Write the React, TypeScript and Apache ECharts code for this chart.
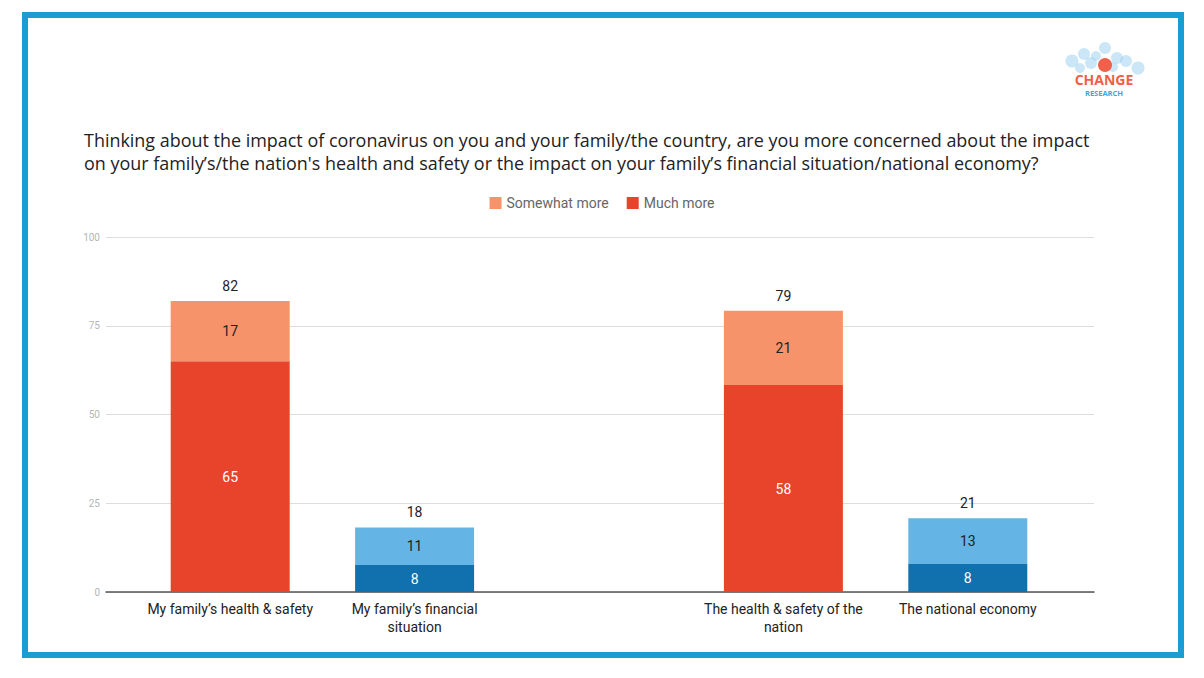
import React, { useEffect, useRef } from "react";
import * as echarts from "echarts";

const categories = [
  "My family’s health & safety",
  "My family’s financial\nsituation",
  "",
  "The health & safety of the\nnation",
  "The national economy",
];
const muchMore = [65, 7.6, null, 58.3, 7.9];
const somewhatMore = [17, 10.6, null, 20.9, 12.9];
const barKinds = ["health", "finance", "none", "health", "finance"];
const yTicks = [0, 25, 50, 75, 100];
const titleLines = [
  "Thinking about the impact of coronavirus on you and your family/the country, are you more concerned about the impact",
  "on your family’s/the nation's health and safety or the impact on your family’s financial situation/national economy?",
];

const RED = "#E8432B";
const SALMON = "#F6936B";
const DARKBLUE = "#1170AE";
const LIGHTBLUE = "#64B4E5";

export default function App() {
  const ref = useRef<HTMLDivElement>(null);
  useEffect(() => {
    if (!ref.current) return;
    const chart = echarts.init(ref.current, undefined, { renderer: "svg" });
    const totals = muchMore.map((m, i) =>
      m == null ? null : (m as number) + (somewhatMore[i] as number)
    );
    const muchData = muchMore.map((v, i) =>
      v == null
        ? "-"
        : {
            value: v,
            itemStyle: { color: barKinds[i] === "health" ? RED : DARKBLUE },
          }
    );
    const someData = somewhatMore.map((v, i) =>
      v == null
        ? "-"
        : {
            value: v,
            itemStyle: { color: barKinds[i] === "health" ? SALMON : LIGHTBLUE },
          }
    );
    const totalData = totals.map((t) => (t == null ? "-" : 0));
    const font = "Roboto, 'Open Sans', sans-serif";
    const bubbles = [
      [1105, 48, 6],
      [1072, 61, 6.5],
      [1084, 54, 6],
      [1091, 63, 6],
      [1117, 58, 6],
      [1126, 61, 6],
      [1138, 68, 6.5],
      [1080, 68, 5],
      [1096, 56, 5],
      [1113, 67, 5],
    ];
    chart.setOption({
      animation: false,
      backgroundColor: "#ffffff",
      graphic: [
        {
          type: "rect",
          shape: { x: 25, y: 15, width: 1156, height: 640 },
          style: { fill: "none", stroke: "#1A9DD2", lineWidth: 6 },
          z: 0,
        },
        ...bubbles.map(([x, y, r]) => ({
          type: "circle",
          shape: { cx: x, cy: y, r },
          style: { fill: "rgba(160,210,240,0.55)" },
        })),
        {
          type: "circle",
          shape: { cx: 1105, cy: 65, r: 7 },
          style: { fill: "#F0604A" },
        },
        {
          type: "text",
          x: 1104,
          y: 79,
          style: {
            text: "CHANGE",
            fill: "#EF5F48",
            font: "bold 14px 'Open Sans', sans-serif",
            align: "center",
            verticalAlign: "middle",
          },
        },
        {
          type: "text",
          x: 1104,
          y: 93,
          style: {
            text: "RESEARCH",
            fill: "#3DA6DE",
            font: "bold 7.5px 'Open Sans', sans-serif",
            align: "center",
            verticalAlign: "middle",
          },
        },
        ...titleLines.map((t, i) => ({
          type: "text",
          x: 84,
          y: 140 + i * 23,
          style: {
            text: t,
            fill: "#222222",
            font: "17.95px 'Open Sans', sans-serif",
            verticalAlign: "middle",
          },
        })),
      ],
      legend: {
        data: ["Somewhat more", "Much more"],
        top: 191,
        left: "center",
        itemWidth: 12,
        itemHeight: 12,
        itemGap: 18,
        icon: "rect",
        textStyle: { color: "#666666", fontSize: 14, fontFamily: font },
      },
      grid: [
        { left: 106, right: 110, top: 237, bottom: 86 },
        { left: 138, right: 144, top: 237, bottom: 86 },
      ],
      xAxis: [
        {
          gridIndex: 0,
          type: "value",
          min: 0,
          max: 1,
          axisLine: { show: true, onZero: false, lineStyle: { color: "#555555", width: 1.5 } },
          axisTick: { show: false },
          axisLabel: { show: false },
          splitLine: { show: false },
        },
        {
          gridIndex: 1,
          type: "category",
          data: categories,
          axisLine: { show: false },
          axisTick: { show: false },
          axisLabel: {
            color: "#222222",
            fontSize: 14,
            fontFamily: font,
            margin: 8,
            lineHeight: 18,
            interval: 0,
          },
        },
      ],
      yAxis: [
        {
          gridIndex: 0,
          type: "value",
          min: 0,
          max: 100,
          interval: 25,
          axisLine: { show: false },
          axisTick: { show: false },
          axisLabel: {
            color: "#b5b5b5",
            fontSize: 10,
            fontFamily: font,
            margin: 6,
            formatter: (v: number) => (yTicks.includes(v) ? String(v) : ""),
          },
          splitLine: { lineStyle: { color: "#dddddd", width: 1 } },
        },
        {
          gridIndex: 1,
          type: "value",
          min: 0,
          max: 100,
          interval: 25,
          show: false,
          splitLine: { show: false },
        },
      ],
      series: [
        {
          name: "Much more",
          type: "bar",
          stack: "s",
          xAxisIndex: 1,
          yAxisIndex: 1,
          barWidth: 119,
          itemStyle: { color: RED },
          data: muchData,
          label: {
            show: true,
            position: "inside",
            color: "#ffffff",
            fontSize: 14,
            fontFamily: font,
            formatter: (p: any) => String(Math.round(p.value)),
          },
        },
        {
          name: "Somewhat more",
          type: "bar",
          stack: "s",
          xAxisIndex: 1,
          yAxisIndex: 1,
          barWidth: 119,
          itemStyle: { color: SALMON },
          data: someData,
          label: {
            show: true,
            position: "inside",
            color: "#222222",
            fontSize: 14,
            fontFamily: font,
            formatter: (p: any) => String(Math.round(p.value)),
          },
        },
        {
          name: "Total",
          type: "bar",
          stack: "s",
          xAxisIndex: 1,
          yAxisIndex: 1,
          barWidth: 119,
          itemStyle: { color: "transparent" },
          data: totalData,
          silent: true,
          label: {
            show: true,
            position: "top",
            distance: 8,
            color: "#222222",
            fontSize: 14,
            fontFamily: font,
            formatter: (p: any) => String(Math.round(totals[p.dataIndex] as number)),
          },
        },
      ],
    });
    return () => chart.dispose();
  }, []);
  return (
    <div
      ref={ref}
      style={{ position: "fixed", left: 0, top: 0, width: 1204, height: 678 }}
    />
  );
}
